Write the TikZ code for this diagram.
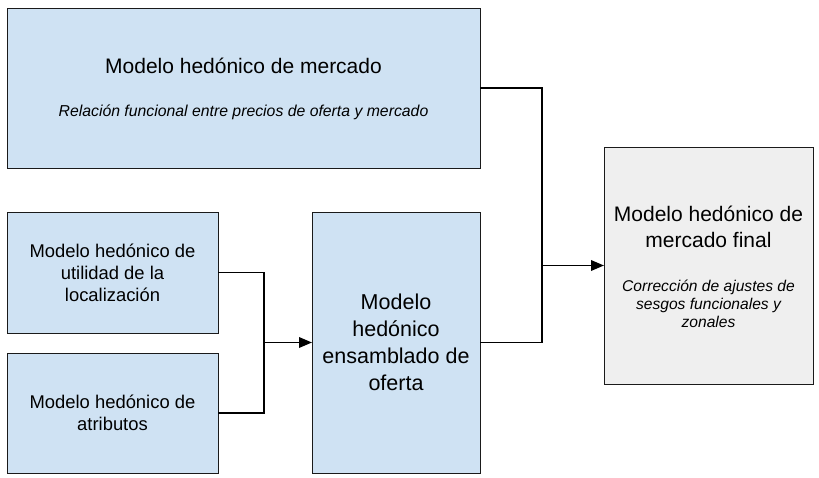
\documentclass[tikz,border=0pt]{standalone}
\usepackage{fontspec}
\setmainfont{Liberation Sans}
\usetikzlibrary{arrows.meta}
\definecolor{boxblue}{HTML}{CFE2F3}
\definecolor{boxgray}{HTML}{EFEFEF}
\definecolor{edgecol}{HTML}{1A1A1A}
\tikzset{
  blk/.style={draw=edgecol, line width=0.9pt, fill=boxblue, anchor=north west,
              inner sep=0pt, outer sep=0pt, align=center, text=black},
  graybox/.style={blk, fill=boxgray},
  bigtxt/.style={font=\fontsize{21}{26}\selectfont},
  midtxt/.style={font=\fontsize{21.5}{27}\selectfont},
  smalltxt/.style={font=\fontsize{18.4}{22}\selectfont},
  subtxt/.style={font=\itshape\fontsize{15.6}{18.2}\selectfont},
  topsubtxt/.style={font=\itshape\fontsize{15.8}{18.2}\selectfont},
  txtnode/.style={inner sep=0pt, align=center, text=black},
  conn/.style={draw=black, line width=1.9pt},
  arr/.style={conn, -{Triangle[length=13pt, width=10.5pt]}},
}
\begin{document}
\begin{tikzpicture}[x=1pt, y=-1pt]
\useasboundingbox[fill=white] (0,0) rectangle (819,478);
% boxes
\node[blk, minimum width=473pt, minimum height=160pt] (top) at (7,8) {};
\node[blk, smalltxt, minimum width=211pt, minimum height=121pt] (loc) at (7,212)
  {Modelo hedónico de\\utilidad de la\\localización};
\node[blk, smalltxt, minimum width=211pt, minimum height=120pt] (atr) at (7,353)
  {Modelo hedónico de\\atributos};
\node[blk, midtxt, minimum width=168pt, minimum height=261pt] (mid) at (312,212)
  {Modelo\\hedónico\\ensamblado de\\oferta};
\node[graybox, minimum width=209pt, minimum height=237pt] (fin) at (604,147) {};
% texts in top box
\node[txtnode, bigtxt, anchor=base] (toptitle) at (243.5,74) {Modelo hedónico de mercado};
\node[txtnode, topsubtxt, anchor=base] (topsub) at (243.5,116.5) {Relación funcional entre precios de oferta y mercado};
% texts in final box
\node[txtnode, bigtxt] (fintitle) at (708.5,227) {Modelo hedónico de\\mercado final};
\node[txtnode, subtxt] (finsub) at (708.5,304) {Corrección de ajustes de\\sesgos funcionales y\\zonales};
% junctions
\coordinate (j1) at (264,342.5);
\coordinate (j2) at (542,265.5);
% connectors
\draw[conn] (loc.east) -| (j1);
\draw[conn] (atr.east) -| (j1);
\draw[arr] (j1) -- (mid.west);
\draw[conn] (top.east) -| (j2);
\draw[conn] (mid.east) -| (j2);
\draw[arr] (j2) -- (fin.west);
\end{tikzpicture}
\end{document}
